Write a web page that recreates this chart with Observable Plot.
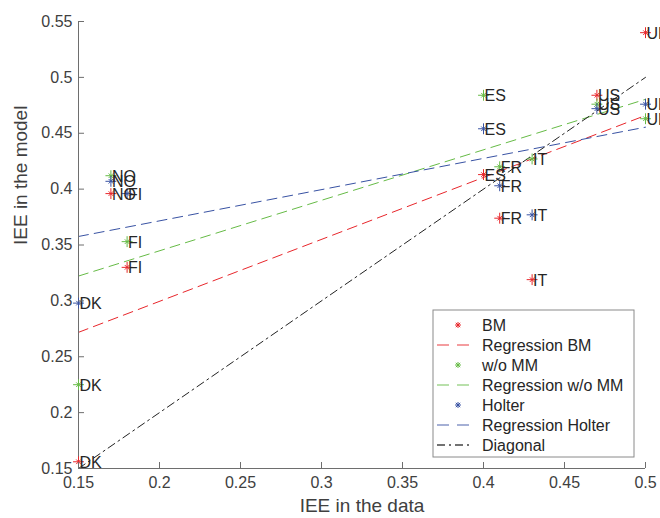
<!DOCTYPE html>
<html>
<head>
<meta charset="utf-8">
<script src="https://cdn.jsdelivr.net/npm/d3@7"></script>
<script src="https://cdn.jsdelivr.net/npm/@observablehq/plot@0.6"></script>
<style>
  html, body { margin: 0; padding: 0; background: #fff; }
  #chart { position: relative; width: 660px; height: 518px; }
  svg { font-family: "Liberation Sans", Arial, sans-serif; }
</style>
</head>
<body>
<div id="chart"></div>
<script>
// ---- data ----
const countries = ["UK", "US", "ES", "FR", "IT", "NO", "FI", "DK"];
const dataIEE   = [0.50, 0.47, 0.40, 0.41, 0.43, 0.17, 0.18, 0.15];
const bmIEE     = [0.540, 0.484, 0.413, 0.374, 0.319, 0.396, 0.330, 0.156];
const womIEE    = [0.463, 0.476, 0.484, 0.420, 0.427, 0.412, 0.353, 0.225];
const holterIEE = [0.476, 0.472, 0.454, 0.403, 0.377, 0.407, 0.396, 0.298];
const diagonal  = [0.15, 0.5];
const xTicks = [0.15, 0.2, 0.25, 0.3, 0.35, 0.4, 0.45, 0.5];
const yTicks = [0.15, 0.2, 0.25, 0.3, 0.35, 0.4, 0.45, 0.5, 0.55];
const seriesNames = ["BM", "w/o MM", "Holter"];
const legendLabels = ["BM", "Regression BM", "w/o MM", "Regression w/o MM", "Holter", "Regression Holter", "Diagonal"];

// ---- styles ----
const colors = {"BM": "#e8262b", "w/o MM": "#66bb46", "Holter": "#3852a3"};
const dashReg = "10,6";
const dashDiag = "8,4,2,4";
const textColor = "#262626";
const axisColor = "#6e6e6e";

const seriesValues = [bmIEE, womIEE, holterIEE];
const rows = [];
seriesNames.forEach((s, si) => {
  countries.forEach((c, i) => rows.push({series: s, country: c, x: dataIEE[i], y: seriesValues[si][i]}));
});

const marks = [];
// regression lines
seriesNames.forEach(s => {
  marks.push(Plot.linearRegressionY(rows.filter(d => d.series === s), {
    x: "x", y: "y", ci: 0, stroke: colors[s], strokeWidth: 1, strokeDasharray: dashReg
  }));
});
// diagonal
marks.push(Plot.line(diagonal, {x: d => d, y: d => d, stroke: "#222", strokeWidth: 1, strokeDasharray: dashDiag}));
// axes lines
marks.push(Plot.ruleX([0.15], {stroke: axisColor}));
marks.push(Plot.ruleY([0.15], {stroke: axisColor}));
// markers (MATLAB-like asterisk: plus + times)
seriesNames.forEach(s => {
  const d = rows.filter(r => r.series === s);
  marks.push(Plot.dot(d, {x: "x", y: "y", symbol: "plus", r: 3.6, stroke: colors[s], strokeWidth: 1}));
  marks.push(Plot.dot(d, {x: "x", y: "y", symbol: "times", r: 2.2, stroke: colors[s], strokeWidth: 1}));
});
// country labels
marks.push(Plot.text(rows, {x: "x", y: "y", text: "country", textAnchor: "start", dx: 1, dy: 1, fill: textColor, fontSize: 16}));
// axes: labels
marks.push(Plot.axisX({ticks: xTicks, tickSize: 0, tickPadding: 8, color: "#404040", fontSize: 16, label: null, tickFormat: d3.format("")}));
marks.push(Plot.axisY({ticks: yTicks, tickSize: 0, tickPadding: 6, color: "#404040", fontSize: 16, label: null, tickFormat: d3.format("")}));
// axes: inward ticks
marks.push(Plot.axisX({ticks: xTicks, tickSize: 6, dy: -6, stroke: axisColor, label: null, tickFormat: () => ""}));
marks.push(Plot.axisY({ticks: yTicks, tickSize: 6, dx: 6, stroke: axisColor, label: null, tickFormat: () => ""}));
// axis titles
marks.push(Plot.text(["IEE in the data"], {frameAnchor: "bottom", dy: 43, fill: "#404040", fontSize: 19}));
marks.push(Plot.text(["IEE in the model"], {frameAnchor: "left", dx: -58, rotate: -90, fill: "#404040", fontSize: 19}));

const chart = Plot.plot({
  width: 660,
  height: 518,
  marginLeft: 78,
  marginRight: 15,
  marginTop: 21,
  marginBottom: 50,
  style: {fontFamily: "Liberation Sans, Arial, sans-serif", overflow: "hidden", background: "#fff"},
  x: {domain: [0.15, 0.5]},
  y: {domain: [0.15, 0.55]},
  marks
});
document.getElementById("chart").appendChild(chart);

// ---- legend (drawn into the same SVG) ----
const svg = d3.select(chart);
const lg = svg.append("g").attr("transform", "translate(433,310)").attr("text-anchor", "start");
lg.append("rect").attr("width", 201).attr("height", 147).attr("fill", "#fff").attr("stroke", "#8a8a8a").attr("stroke-width", 1);
legendLabels.forEach((lab, i) => {
  const yy = 15 + i * 20;
  const g = lg.append("g").attr("transform", `translate(0,${yy})`);
  if (i === 6) {
    g.append("line").attr("x1", 4).attr("x2", 40).attr("y1", 0).attr("y2", 0)
      .attr("stroke", "#444").attr("stroke-width", 1.3).attr("stroke-dasharray", "8,4,2,4");
  } else if (i % 2 === 1) {
    const c = colors[seriesNames[(i - 1) / 2]];
    g.append("line").attr("x1", 4).attr("x2", 40).attr("y1", 0).attr("y2", 0)
      .attr("stroke", c).attr("stroke-opacity", 0.6).attr("stroke-width", 1.5).attr("stroke-dasharray", "12,8");
  } else {
    const c = colors[seriesNames[i / 2]];
    const s = g.append("g").attr("transform", "translate(25,0)").attr("stroke", c).attr("stroke-width", 1);
    s.append("line").attr("x1", -3).attr("x2", 3).attr("y1", 0).attr("y2", 0);
    s.append("line").attr("x1", 0).attr("x2", 0).attr("y1", -3).attr("y2", 3);
    s.append("line").attr("x1", -2.2).attr("x2", 2.2).attr("y1", -2.2).attr("y2", 2.2);
    s.append("line").attr("x1", -2.2).attr("x2", 2.2).attr("y1", 2.2).attr("y2", -2.2);
  }
  g.append("text").attr("x", 49).attr("y", 0).attr("dy", "0.35em")
    .attr("fill", textColor).attr("font-size", 16).text(lab);
});
</script>
</body>
</html>
